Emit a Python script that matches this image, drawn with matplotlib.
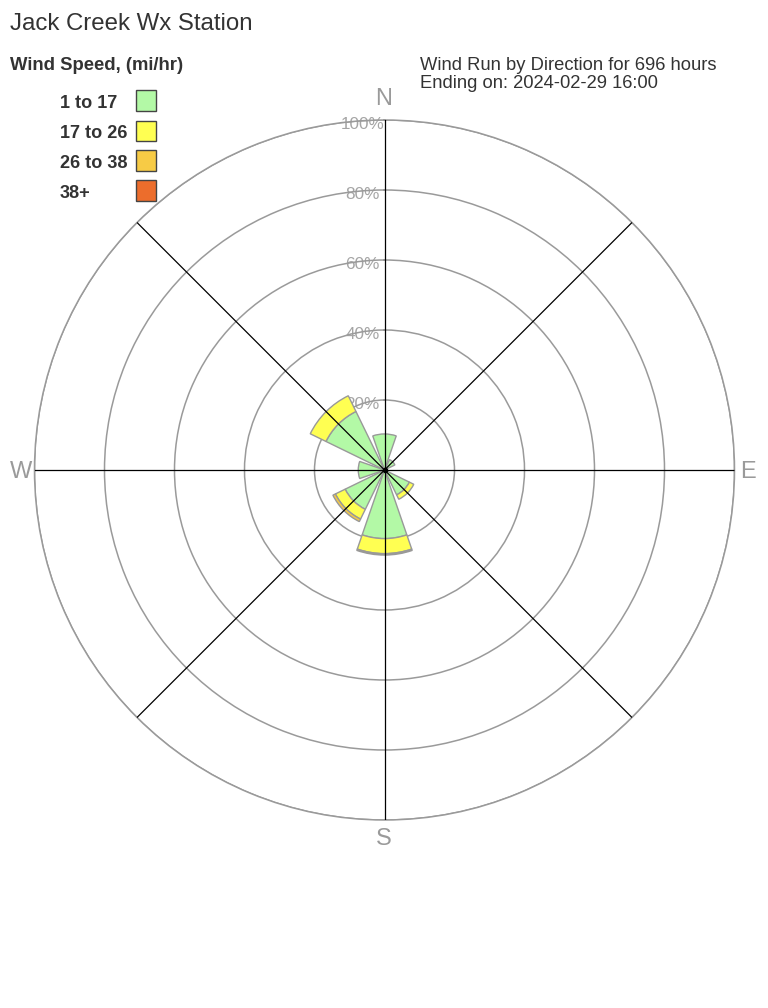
import matplotlib.pyplot as plt
import matplotlib.patches as mpatches
import numpy as np

plt.rcParams['font.family'] = ['Liberation Sans', 'DejaVu Sans']

# wind run share (%) per direction, stacked by speed class
directions = ['N', 'NE', 'E', 'SE', 'S', 'SW', 'W', 'NW']
dir_angles = [0, 45, 90, 135, 180, 225, 270, 315]
speed_1_17 = [10.3, 3.3, 0.0, 7.9, 19.6, 12.5, 7.5, 18.6]
speed_17_26 = [0.0, 0.0, 0.0, 1.4, 4.3, 3.1, 0.0, 5.0]
speed_26_38 = [0.0, 0.0, 0.0, 0.0, 0.4, 0.8, 0.0, 0.0]
speed_38_up = [0.0, 0.0, 0.0, 0.0, 0.0, 0.0, 0.0, 0.0]

classes = ['1 to 17', '17 to 26', '26 to 38', '38+']
colors = ['#b3f9a6', '#ffff52', '#f7cb45', '#ec6d2c']
ring_values = [20, 40, 60, 80, 100]

W, H = 768, 1008


def fx(px):
    return px / W


def fy(py):
    return 1 - py / H


def main():
    fig = plt.figure(figsize=(W / 100, H / 100), dpi=100)

    cx, cy, rad = 384.5, 470, 350
    ax = fig.add_axes([fx(cx - rad), fy(cy + rad), 2 * rad / W, 2 * rad / H],
                      projection='polar')
    ax.set_theta_zero_location('N')
    ax.set_theta_direction(-1)
    ax.set_ylim(0, 100)
    ax.set_xticks([])
    ax.set_yticks(ring_values)
    ax.set_yticklabels([])
    ax.yaxis.grid(True, color='#9a9a9a', linewidth=1.1)
    ax.xaxis.grid(False)
    ax.spines['polar'].set_color('#9a9a9a')
    ax.spines['polar'].set_linewidth(1.1)

    theta = np.deg2rad(dir_angles)
    width = np.deg2rad(38)
    bottom = np.zeros(len(directions))
    for vals, col in zip([speed_1_17, speed_17_26, speed_26_38, speed_38_up], colors):
        vals = np.array(vals)
        mask = vals > 0
        ax.bar(theta[mask], vals[mask], width=width, bottom=bottom[mask],
               color=col, edgecolor='#999999', linewidth=1.0, zorder=2)
        bottom += vals

    # spokes
    for a in dir_angles:
        ax.plot([np.deg2rad(a)] * 2, [0, 100], color='black', linewidth=0.9, zorder=3)
    ax.plot([0], [0], 'o', color='black', markersize=3, zorder=4)

    # ring labels
    for r in ring_values:
        ax.annotate(f'{r}%', xy=(0, r), xytext=(-16, -3), textcoords='offset points',
                    ha='center', va='center', color='#a5a5a5', fontsize=12.3, zorder=1)

    # compass labels
    for lab, (x, y) in zip(['N', 'E', 'S', 'W'],
                           [(384, 99), (748, 472), (384, 839), (21, 472)]):
        fig.text(fx(x), fy(y), lab, ha='center', va='center', color='#9a9a9a', fontsize=17)

    fig.text(fx(10), fy(24), 'Jack Creek Wx Station', ha='left', va='center',
             color='#333333', fontsize=17.3)
    fig.text(fx(10), fy(66), 'Wind Speed, (mi/hr)', ha='left', va='center',
             color='#333333', fontsize=13.3, fontweight='bold')
    fig.text(fx(420), fy(65), 'Wind Run by Direction for 696 hours', ha='left', va='center',
             color='#333333', fontsize=13.2)
    fig.text(fx(420), fy(84), 'Ending on: 2024-02-29 16:00', ha='left', va='center',
             color='#333333', fontsize=13.2)

    for i, (lab, col) in enumerate(zip(classes, colors)):
        yc = 100.5 + 30 * i
        fig.text(fx(60), fy(yc + 2.5), lab, ha='left', va='center',
                 color='#333333', fontsize=13.1, fontweight='bold')
        fig.add_artist(mpatches.Rectangle((fx(135.5), fy(yc + 10)), 20 / W, 20 / H,
                                          transform=fig.transFigure, facecolor=col,
                                          edgecolor='#444444', linewidth=1))

    fig.savefig('out.png', dpi=100)


if __name__ == "__main__":
    main()
